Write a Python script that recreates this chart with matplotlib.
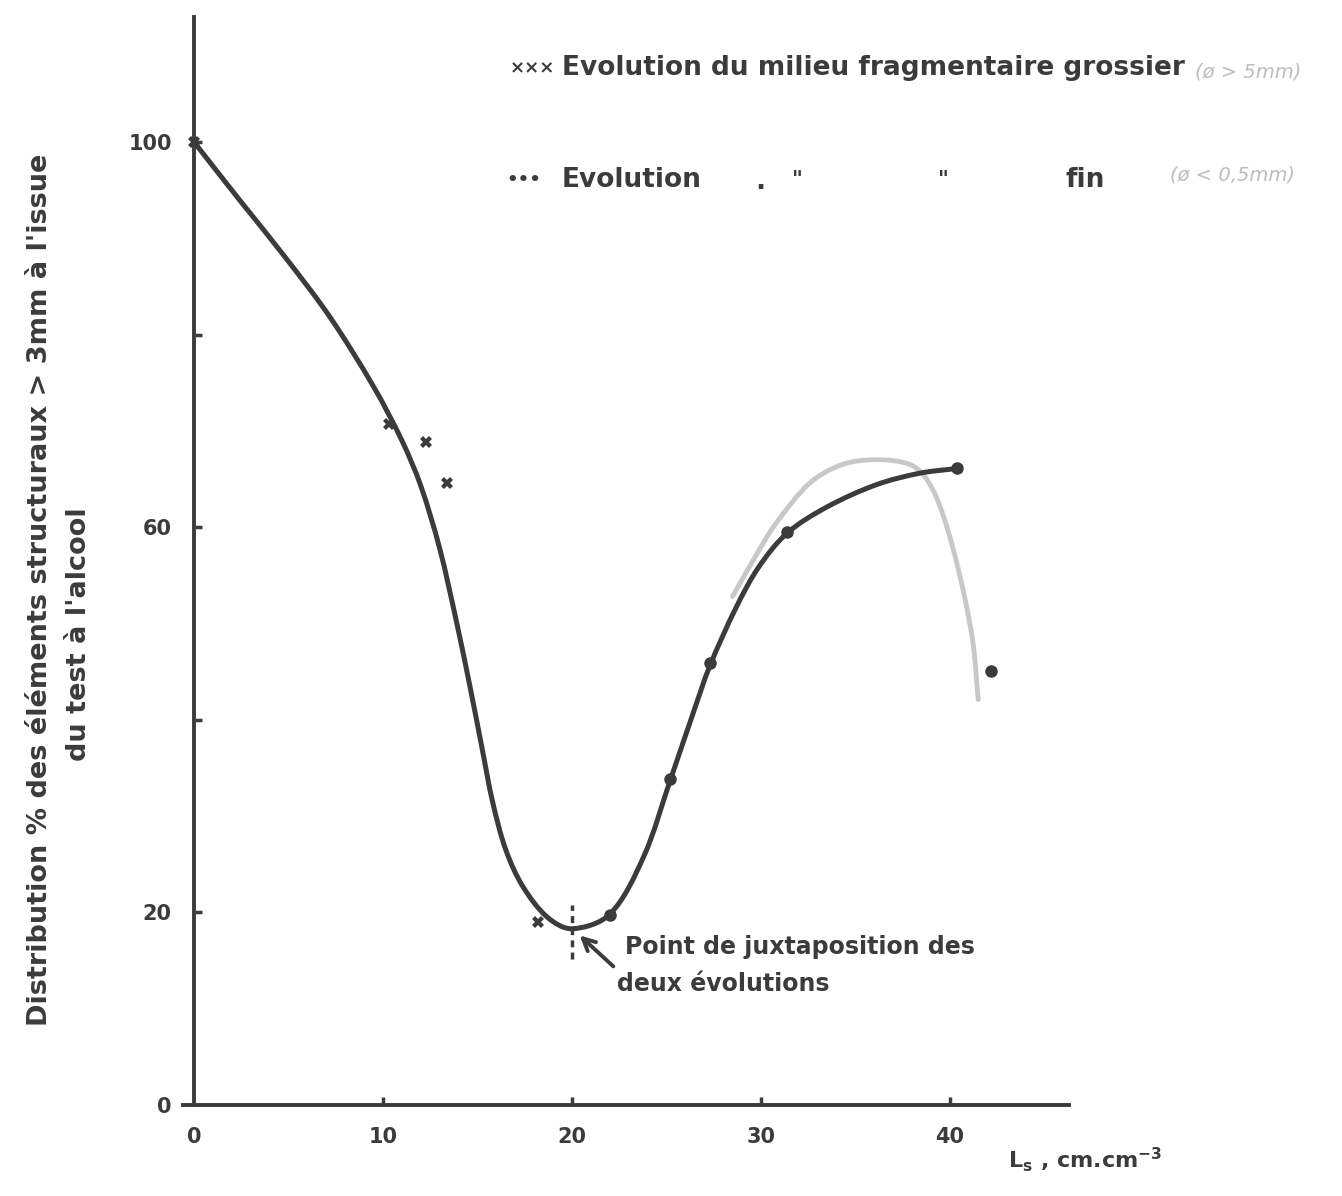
import numpy as np
import matplotlib.pyplot as plt
from matplotlib.path import Path
from matplotlib.patches import PathPatch

ink = '#3b3b3b'
pencil = '#c8c8c8'

# points
coarse_x = [0.0, 10.3, 12.3, 13.4, 18.2]
coarse_y = [100.0, 70.7, 68.8, 64.6, 19.0]

fine_x = [22.0, 25.2, 27.3, 31.4, 40.4, 42.2]
fine_y = [19.7, 33.8, 45.9, 59.5, 66.1, 45.1]

# hand-drawn fitted curve
curve_x = [0.0, 2.4, 4.8, 7.2, 9.5, 11.0, 12.0, 13.0, 13.9, 14.6, 15.2, 15.8,
           16.5, 17.4, 18.7, 20.0, 22.0, 23.8, 25.2, 26.4, 27.3, 28.7, 29.9, 31.4,
           33.5, 36.1, 38.4, 40.4]
curve_y = [100.0, 94.0, 88.1, 81.8, 74.6, 69.0, 64.3, 57.8, 50.1, 43.5, 37.5, 31.5,
           26.5, 22.7, 19.5, 18.3, 19.8, 25.8, 33.7, 40.6, 45.6, 51.7, 55.9, 59.4,
           62.1, 64.4, 65.6, 66.1]

# faint pencil correction
pencil_x = [28.5, 29.9, 30.8, 32.6, 34.3, 36.1, 37.9, 38.8, 39.6, 40.5, 41.2, 41.5]
pencil_y = [52.8, 57.6, 60.4, 64.6, 66.5, 67.0, 66.5, 64.9, 61.5, 55.2, 48.3, 42.1]

xticks = [0, 10, 20, 30, 40]
yticks = [0, 20, 40, 60, 80, 100]
ytick_labels = ['0', '20', '', '60', '', '100']

# rough pixel size of one data unit, used only to shape the spline
SX, SY = 18.9, 9.63


def smooth_path(xs, ys):
    # chord-length hermite spline through the read points, as bezier segments
    p = np.column_stack([np.asarray(xs) * SX, np.asarray(ys) * SY])
    d = np.hypot(*np.diff(p, axis=0).T)
    t = np.concatenate([[0], np.cumsum(d)])
    m = np.zeros_like(p)
    m[1:-1] = (p[2:] - p[:-2]) / (t[2:] - t[:-2])[:, None]
    m[0] = (p[1] - p[0]) / d[0]
    m[-1] = (p[-1] - p[-2]) / d[-1]
    verts = [p[0]]
    codes = [Path.MOVETO]
    for i in range(len(p) - 1):
        verts += [p[i] + m[i] * d[i] / 3, p[i + 1] - m[i + 1] * d[i] / 3, p[i + 1]]
        codes += [Path.CURVE4] * 3
    verts = np.array(verts) / [SX, SY]
    return Path(verts, codes)


plt.rcParams['font.family'] = ['DejaVu Sans']
fig = plt.figure(figsize=(13.42, 11.96), dpi=100)
ax = fig.add_axes([0.1361, 0.0761, 0.6604, 0.9099])

ax.add_patch(PathPatch(smooth_path(pencil_x, pencil_y), fc='none', ec=pencil, lw=3.5,
                       capstyle='round'))
ax.add_patch(PathPatch(smooth_path(curve_x, curve_y), fc='none', ec=ink, lw=3.6,
                       capstyle='round', joinstyle='round'))
ax.plot(coarse_x, coarse_y, 'X', color=ink, ms=9, mew=0, clip_on=False)
ax.plot(fine_x, fine_y, 'o', color=ink, ms=8, clip_on=False)

# juxtaposition marker
ax.plot([20, 20], [15.2, 20.8], color=ink, lw=2.5, ls=(0, (2, 1.5)))
ax.annotate('', xy=(20.3, 17.8), xytext=(22.3, 14.2),
            arrowprops=dict(arrowstyle='->', color=ink, lw=2.8, mutation_scale=22))
ax.text(22.8, 16.4, 'Point de juxtaposition des', color=ink, fontsize=17,
        fontweight='bold', ha='left', va='center')
ax.text(22.4, 12.6, 'deux évolutions', color=ink, fontsize=17,
        fontweight='bold', ha='left', va='center')

ax.set_xlim(-0.6, 46.3)
ax.set_ylim(0, 113)
ax.spines['top'].set_visible(False)
ax.spines['right'].set_visible(False)
ax.spines['left'].set_position(('data', 0))
for s in ['left', 'bottom']:
    ax.spines[s].set_linewidth(2.8)
    ax.spines[s].set_color(ink)

ax.set_xticks(xticks)
ax.set_yticks(yticks)
ax.set_yticklabels(ytick_labels)
ax.tick_params(direction='in', length=6, width=2.5, color=ink, labelcolor=ink,
               labelsize=15, pad=16)
for lab in ax.get_xticklabels() + ax.get_yticklabels():
    lab.set_fontweight('bold')
ax.xaxis.get_major_ticks()[0].tick1line.set_visible(False)
ax.yaxis.get_major_ticks()[0].tick1line.set_visible(False)

# axis titles
fig.text(0.030, 1 - 590 / 1196, "Distribution % des éléments structuraux > 3mm à l'issue",
         rotation=90, ha='center', va='center', fontsize=19.5, fontweight='bold', color=ink)
fig.text(0.059, 1 - 634 / 1196, "du test à l'alcool",
         rotation=90, ha='center', va='center', fontsize=19.5, fontweight='bold', color=ink)
fig.text(1085 / 1342, 1 - 1160 / 1196, r'L$_\mathbf{s}$ , cm.cm$^{\mathbf{-3}}$',
         ha='center', va='center', fontsize=16, fontweight='bold', color=ink)

# legend written on the sheet
fig.text(510 / 1342, 1 - 68 / 1196, '×××', ha='left', va='center', fontsize=13,
         fontweight='bold', color=ink)
fig.text(562 / 1342, 1 - 68 / 1196, 'Evolution du milieu fragmentaire grossier',
         ha='left', va='center', fontsize=19, fontweight='bold', color=ink)
fig.text(506 / 1342, 1 - 180 / 1196, '•••', ha='left', va='center', fontsize=13,
         fontweight='bold', color=ink)
fig.text(562 / 1342, 1 - 180 / 1196, 'Evolution', ha='left', va='center', fontsize=19,
         fontweight='bold', color=ink)
fig.text(760 / 1342, 1 - 182 / 1196, '.', ha='center', va='center', fontsize=19,
         fontweight='bold', color=ink)
fig.text(797 / 1342, 1 - 180 / 1196, '"', ha='center', va='center', fontsize=15,
         fontweight='bold', color=ink)
fig.text(943 / 1342, 1 - 180 / 1196, '"', ha='center', va='center', fontsize=15,
         fontweight='bold', color=ink)
fig.text(1065 / 1342, 1 - 180 / 1196, 'fin', ha='left', va='center', fontsize=19,
         fontweight='bold', color=ink)
fig.text(1195 / 1342, 1 - 72 / 1196, '(ø > 5mm)', ha='left', va='center', fontsize=14,
         style='italic', color='#bdbdbd')
fig.text(1170 / 1342, 1 - 175 / 1196, '(ø < 0,5mm)', ha='left', va='center', fontsize=14,
         style='italic', color='#bdbdbd')

fig.savefig('out.png', dpi=100)
